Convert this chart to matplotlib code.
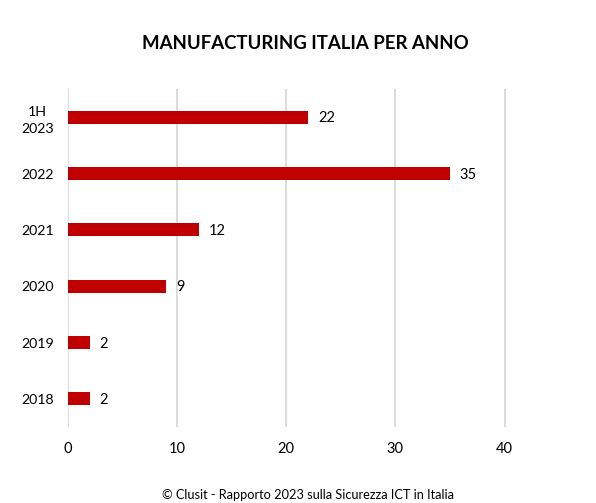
import matplotlib
matplotlib.use("Agg")
import matplotlib.pyplot as plt

categories = ["1H\n2023", "2022", "2021", "2020", "2019", "2018"]
values = [22, 35, 12, 9, 2, 2]
xticks = [0, 10, 20, 30, 40]

plt.rcParams['font.family'] = ['Lato', 'DejaVu Sans']

fig = plt.figure(figsize=(5.96, 5.03), dpi=100)
ax = fig.add_axes([0.114, 0.151, 0.738, 0.672])

ypos = list(range(len(categories)))
ax.barh(ypos, values, height=0.23, color="#C00000", zorder=3)
for y, v in zip(ypos, values):
    ax.text(v + 0.9, y + 0.02, str(v), va="center", ha="left", fontsize=10.5, color="#000000")

ax.set_ylim(len(categories) - 0.5, -0.5)
ax.set_xlim(0, 40.3)
ax.set_yticks(ypos)
ax.set_yticklabels(categories, fontsize=10.2, multialignment="center", linespacing=1.5)
ax.set_xticks(xticks)
ax.set_xticklabels([str(t) for t in xticks], fontsize=10.5)
ax.tick_params(axis="x", length=0, pad=11)
ax.tick_params(axis="y", length=0, pad=10)
ax.grid(axis="x", color="#D9D9D9", linewidth=1.3, zorder=0)
for s in ax.spines.values():
    s.set_visible(False)

fig.text(0.513, 0.914, "MANUFACTURING ITALIA PER ANNO", ha="center", va="center",
         fontsize=13.4, fontweight="bold")
fig.text(0.516, 0.016, "© Clusit - Rapporto 2023 sulla Sicurezza ICT in Italia", ha="center",
         va="center", fontsize=9.2)

fig.savefig("out.png", dpi=100)
